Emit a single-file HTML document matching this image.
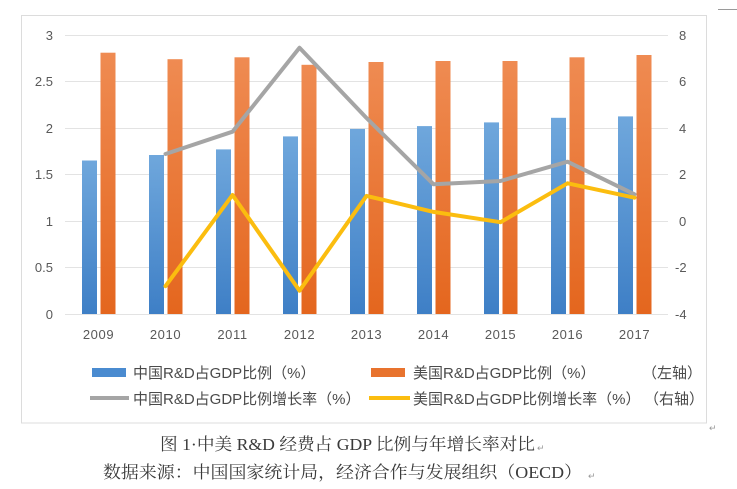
<!DOCTYPE html>
<html>
<head>
<meta charset="utf-8">
<style>
  html, body { margin:0; padding:0; background:#fff; }
  body { width:737px; height:489px; overflow:hidden; }
  svg { display:block; }
  .ax { font-family:"Liberation Sans", sans-serif; font-size:13px; fill:#595959; }
  .yr { font-family:"Liberation Sans", sans-serif; font-size:13px; fill:#595959; letter-spacing:0.6px; }
  .lg { font-family:"Liberation Sans", "Noto Sans CJK SC", sans-serif; font-size:15px; fill:#4a4a4a; }
  .cap { font-family:"Liberation Serif", "Noto Serif CJK SC", serif; font-size:17px; fill:#3a3a3a; }
  .mk { font-family:"Liberation Sans", "Noto Sans CJK SC", sans-serif; font-size:9px; fill:#999; }
</style>
</head>
<body>
<svg width="737" height="489" viewBox="0 0 737 489" xmlns="http://www.w3.org/2000/svg">
  <defs>
    <linearGradient id="gb" x1="0" y1="0" x2="0" y2="1">
      <stop offset="0" stop-color="#6fa7dc"/>
      <stop offset="1" stop-color="#3e7fc6"/>
    </linearGradient>
    <linearGradient id="go" x1="0" y1="0" x2="0" y2="1">
      <stop offset="0" stop-color="#ef8b52"/>
      <stop offset="1" stop-color="#e4661e"/>
    </linearGradient>
  </defs>

  <!-- frame -->
  <rect x="21.5" y="15.5" width="685" height="407.5" fill="#fff" stroke="#dcdcdc" stroke-width="1"/>
  <line x1="718" y1="9.5" x2="737" y2="9.5" stroke="#9a9a9a" stroke-width="1"/>

  <!-- gridlines -->
  <g stroke="#e3e3e3" stroke-width="1">
    <line x1="65" y1="35.5" x2="668" y2="35.5"/>
    <line x1="65" y1="81.5" x2="668" y2="81.5"/>
    <line x1="65" y1="128.5" x2="668" y2="128.5"/>
    <line x1="65" y1="174.5" x2="668" y2="174.5"/>
    <line x1="65" y1="221.5" x2="668" y2="221.5"/>
    <line x1="65" y1="267.5" x2="668" y2="267.5"/>
    <line x1="65" y1="314.5" x2="668" y2="314.5"/>
  </g>

  <!-- left axis labels -->
  <g class="ax" text-anchor="end">
    <text x="53" y="40">3</text>
    <text x="53" y="86">2.5</text>
    <text x="53" y="133">2</text>
    <text x="53" y="179">1.5</text>
    <text x="53" y="226">1</text>
    <text x="53" y="272">0.5</text>
    <text x="53" y="319">0</text>
  </g>
  <!-- right axis labels -->
  <g class="ax">
    <text x="679" y="40">8</text>
    <text x="679" y="86">6</text>
    <text x="679" y="133">4</text>
    <text x="679" y="179">2</text>
    <text x="679" y="226">0</text>
    <text x="675" y="272">-2</text>
    <text x="675" y="319">-4</text>
  </g>

  <!-- bars: China (blue) -->
  <g fill="url(#gb)">
    <rect x="82"    y="160.5" width="15" height="153.5"/>
    <rect x="149"   y="155"   width="15" height="159"/>
    <rect x="216"   y="149.4" width="15" height="164.6"/>
    <rect x="283"   y="136.4" width="15" height="177.6"/>
    <rect x="350"   y="128.9" width="15" height="185.1"/>
    <rect x="417"   y="126.1" width="15" height="187.9"/>
    <rect x="484"   y="122.4" width="15" height="191.6"/>
    <rect x="551"   y="117.8" width="15" height="196.2"/>
    <rect x="618"   y="116.4" width="15" height="197.6"/>
  </g>
  <!-- bars: US (orange) -->
  <g fill="url(#go)">
    <rect x="100.5" y="52.7" width="15" height="261.3"/>
    <rect x="167.5" y="59.2" width="15" height="254.8"/>
    <rect x="234.5" y="57.3" width="15" height="256.7"/>
    <rect x="301.5" y="64.8" width="15" height="249.2"/>
    <rect x="368.5" y="62"   width="15" height="252"/>
    <rect x="435.5" y="61"   width="15" height="253"/>
    <rect x="502.5" y="61"   width="15" height="253"/>
    <rect x="569.5" y="57.3" width="15" height="256.7"/>
    <rect x="636.5" y="55"   width="15" height="259"/>
  </g>

  <!-- lines -->
  <polyline fill="none" stroke="#a5a5a5" stroke-width="4" stroke-linejoin="round" stroke-linecap="round"
    points="165.5,154 232.5,131.7 299.5,47.8 366.5,118 433.5,184.3 500.5,181 567.5,161.7 634.5,194.3"/>
  <polyline fill="none" stroke="#fbbd0f" stroke-width="4" stroke-linejoin="round" stroke-linecap="round"
    points="165.5,286.1 232.5,195 299.5,290.7 366.5,195.9 433.5,211.9 500.5,222.2 567.5,183.3 634.5,197.7"/>

  <!-- year labels -->
  <g class="yr" text-anchor="middle">
    <text x="98.5" y="339">2009</text>
    <text x="165.5" y="339">2010</text>
    <text x="232.5" y="339">2011</text>
    <text x="299.5" y="339">2012</text>
    <text x="366.5" y="339">2013</text>
    <text x="433.5" y="339">2014</text>
    <text x="500.5" y="339">2015</text>
    <text x="567.5" y="339">2016</text>
    <text x="634.5" y="339">2017</text>
  </g>

  <!-- legend -->
  <rect x="92" y="368" width="34" height="9" fill="#4a8bd0"/>
  <text class="lg" x="133" y="378">中国R&amp;D占GDP比例（%）</text>
  <rect x="371" y="368" width="34" height="9" fill="#e8732e"/>
  <text class="lg" x="413" y="378">美国R&amp;D占GDP比例（%）</text>
  <text class="lg" x="642" y="378">（左轴）</text>

  <line x1="90" y1="398" x2="129" y2="398" stroke="#a5a5a5" stroke-width="4"/>
  <text class="lg" x="133" y="404">中国R&amp;D占GDP比例增长率（%）</text>
  <line x1="369" y1="398" x2="410" y2="398" stroke="#fbbd0f" stroke-width="4"/>
  <text class="lg" x="413" y="404">美国R&amp;D占GDP比例增长率（%）</text>
  <text class="lg" x="644" y="404">（右轴）</text>

  <text class="mk" x="709" y="431">↵</text>

  <!-- captions -->
  <text class="cap" x="160" y="450" textLength="375" lengthAdjust="spacingAndGlyphs">图 1·中美 R&amp;D 经费占 GDP 比例与年增长率对比</text>
  <text class="mk" x="537" y="451">↵</text>
  <text class="cap" x="103" y="478" textLength="479" lengthAdjust="spacingAndGlyphs">数据来源：中国国家统计局，经济合作与发展组织（OECD）</text>
  <text class="mk" x="588" y="479">↵</text>
</svg>
</body>
</html>
